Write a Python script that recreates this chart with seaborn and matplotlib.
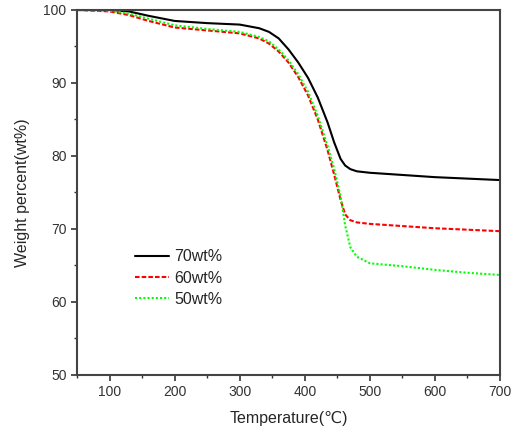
import matplotlib
matplotlib.use("Agg")
import matplotlib.pyplot as plt
import seaborn as sns
import pandas as pd
from matplotlib.ticker import MultipleLocator

temps = [50, 100, 130, 160, 200, 250, 300, 330, 345, 360, 375, 390, 405, 420, 435, 445, 455, 462, 470, 480, 500, 550, 600, 650, 700]
w70 = [100, 100, 99.8, 99.2, 98.5, 98.2, 98.0, 97.5, 97.0, 96.1, 94.6, 92.8, 90.7, 88.0, 84.6, 81.9, 79.6, 78.7, 78.2, 77.9, 77.7, 77.4, 77.1, 76.9, 76.7]
w60 = [100, 99.8, 99.3, 98.5, 97.6, 97.2, 96.8, 96.1, 95.4, 94.3, 92.8, 90.8, 88.3, 85.0, 80.8, 77.5, 74.0, 72.0, 71.2, 70.9, 70.7, 70.4, 70.1, 69.9, 69.7]
w50 = [100, 99.9, 99.5, 98.8, 97.9, 97.4, 97.0, 96.3, 95.7, 94.6, 93.1, 91.2, 88.8, 85.5, 81.4, 78.3, 74.5, 70.5, 67.5, 66.2, 65.3, 64.9, 64.4, 64.0, 63.7]
labels = ["70wt%", "60wt%", "50wt%"]
colors = ["#000000", "#ff0000", "#00ff00"]
styles = ["-", (0, (2.2, 1.0)), (0, (1.0, 1.0))]

sns.set_style("ticks")
plt.rcParams['font.family'] = ['Liberation Sans', 'DejaVu Sans']

fig = plt.figure(figsize=(5.14, 4.34), dpi=100)
ax = fig.add_axes([0.1498, 0.136, 0.823, 0.841])

for lab, ys, c, ls in zip(labels, [w70, w60, w50], colors, styles):
    df = pd.DataFrame({"Temperature": temps, "Weight": ys})
    sns.lineplot(data=df, x="Temperature", y="Weight", ax=ax, color=c,
                 linestyle=ls, linewidth=1.5, label=lab)

ax.set_xlim(50, 700)
ax.set_ylim(50, 100)
ax.xaxis.set_major_locator(MultipleLocator(100))
ax.xaxis.set_minor_locator(MultipleLocator(50))
ax.yaxis.set_major_locator(MultipleLocator(10))
ax.yaxis.set_minor_locator(MultipleLocator(5))
ax.tick_params(which="major", direction="out", length=4, width=1.2, labelsize=10, colors="#333333")
ax.tick_params(which="minor", direction="out", length=2.5, width=1.0, colors="#333333")
for s in ax.spines.values():
    s.set_linewidth(1.5)
    s.set_color("#444444")
ax.set_xlabel("Temperature(℃)", fontsize=11.5, labelpad=8)
ax.set_ylabel("Weight percent(wt%)", fontsize=11.5, labelpad=10)
leg = ax.legend(loc="upper left", bbox_to_anchor=(0.104, 0.384), frameon=False,
                fontsize=11.5, handlelength=2.1, handletextpad=0.35, labelspacing=0.4)
fig.savefig("out.png", dpi=100)
